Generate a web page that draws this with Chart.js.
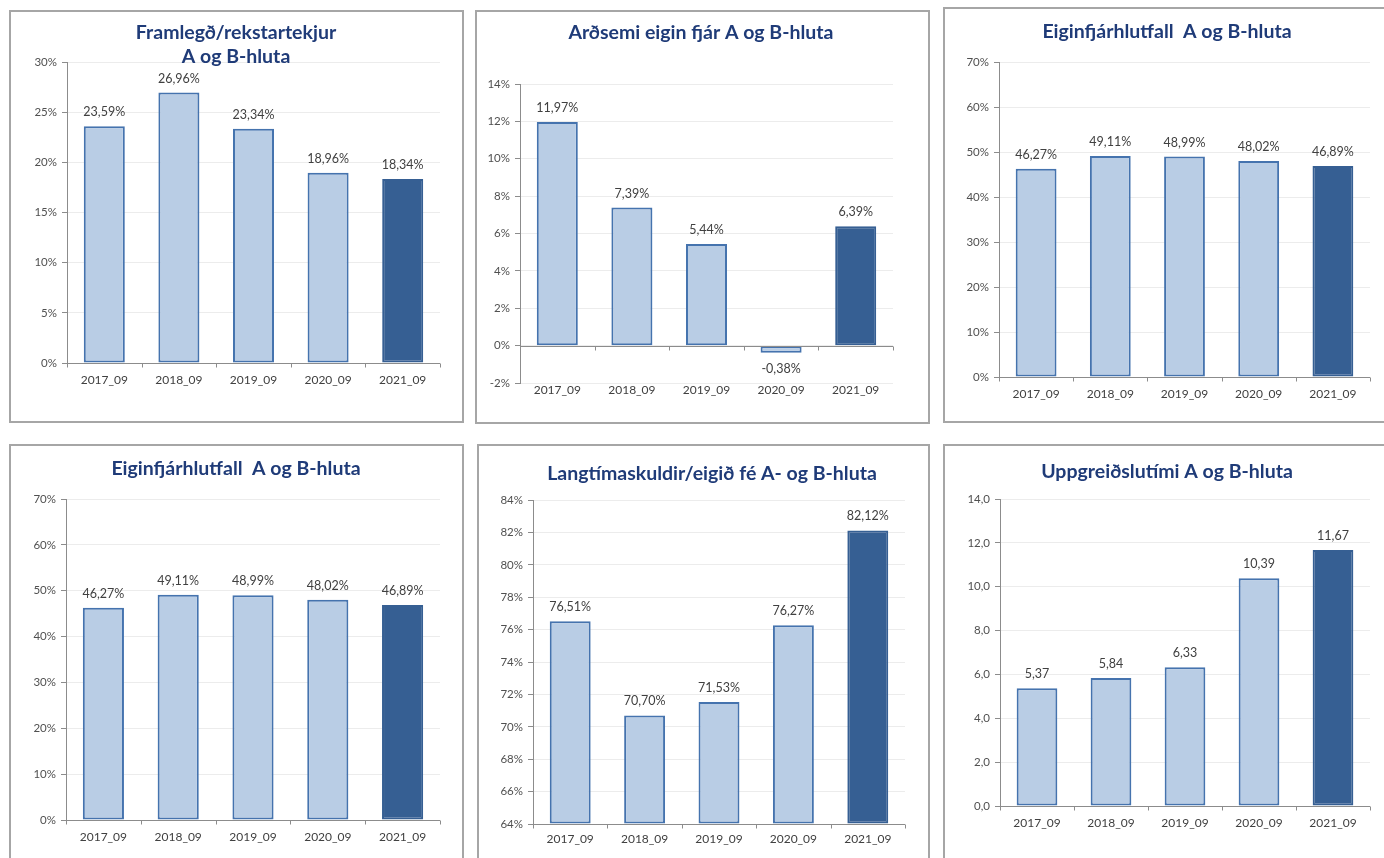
<!DOCTYPE html>
<html lang="is">
<head>
<meta charset="utf-8">
<title>Lykiltölur A og B-hluta</title>
<script src="https://cdn.jsdelivr.net/npm/chart.js@4.4.1/dist/chart.umd.min.js"></script>
<style>
  html, body { margin: 0; padding: 0; background: #fff; width: 1384px; height: 858px; overflow: hidden; }
  .panel { position: absolute; box-sizing: border-box; border: 2px solid #a6a6a6; background: #fff; }
  canvas { position: absolute; }
</style>
</head>
<body>
<script>
/* ---- data ---- */
const categories = ["2017_09", "2018_09", "2019_09", "2020_09", "2021_09"];

const framlegd = [23.59, 26.96, 23.34, 18.96, 18.34];
const ardsemi = [11.97, 7.39, 5.44, -0.38, 6.39];
const eiginfjarhlutfall = [46.27, 49.11, 48.99, 48.02, 46.89];
const langtimaskuldir = [76.51, 70.70, 71.53, 76.27, 82.12];
const uppgreidslutimi = [5.37, 5.84, 6.33, 10.39, 11.67];

const titles = [
  ["Framlegð/rekstartekjur", "A og B-hluta"],
  ["Arðsemi eigin fjár A og B-hluta"],
  ["Eiginfjárhlutfall  A og B-hluta"],
  ["Eiginfjárhlutfall  A og B-hluta"],
  ["Langtímaskuldir/eigið fé A- og B-hluta"],
  ["Uppgreiðslutími A og B-hluta"]
];

// y axis ranges: [min, max, step]
const yRanges = [
  [0, 30, 5],
  [-2, 14, 2],
  [0, 70, 10],
  [0, 70, 10],
  [64, 84, 2],
  [0, 14, 2]
];

/* ---- look ---- */
const LIGHT = "#b9cde5";
const DARK = "#365f93";
const EDGE = "#4573ae";
const AXIS = "#8c8c8c";
const GRID = "#ececec";
const FONT = "Lato, 'Open Sans', sans-serif";

Chart.defaults.font.family = FONT;
Chart.defaults.color = "#595959";

const pct = v => v + "%";
const pct2 = v => v.toFixed(2).replace(".", ",") + "%";
const dec1 = v => v.toFixed(1).replace(".", ",");
const dec2 = v => v.toFixed(2).replace(".", ",");

// page boxes for each panel and where its plot area sits
const layout = [
  { box: [9, 10, 455, 413],  plot: [67, 62, 440, 363],    titleX: 236,  titleY: [33, 57], labelPad: 10 },
  { box: [475, 10, 455, 414], plot: [520, 84, 893, 383],  titleX: 701,  titleY: [33], labelPad: 0 },
  { box: [943, 7, 448, 416],  plot: [999, 62, 1370, 377], titleX: 1167, titleY: [32], labelPad: 10 },
  { box: [9, 444, 455, 430],  plot: [66, 499, 440, 820],  titleX: 236,  titleY: [469], labelPad: 10 },
  { box: [477, 444, 453, 430], plot: [533, 500, 905, 824], titleX: 712, titleY: [474], labelPad: 8 },
  { box: [943, 444, 448, 430], plot: [1000, 499, 1370, 806], titleX: 1167, titleY: [472], labelPad: 10 }
];

const series = [framlegd, ardsemi, eiginfjarhlutfall, eiginfjarhlutfall, langtimaskuldir, uppgreidslutimi];
const tickFmt = [pct, pct, pct, pct, pct, dec1];
const labelFmt = [pct2, pct2, pct2, pct2, pct2, dec2];

const Y_W = 45, X_H = 30, BORDER = 2;

function makeChart(idx) {
  const L = layout[idx];
  const [bx, by, bw, bh] = L.box;
  const [pl, pt, pr, pb] = L.plot;

  const panel = document.createElement("div");
  panel.className = "panel";
  Object.assign(panel.style, { left: bx + "px", top: by + "px", width: bw + "px", height: bh + "px" });
  document.body.appendChild(panel);

  const cx = bx + BORDER, cy = by + BORDER;
  const cw = bw - 2 * BORDER, ch = bh - 2 * BORDER;
  const canvas = document.createElement("canvas");
  canvas.width = cw; canvas.height = ch;
  Object.assign(canvas.style, { left: cx + "px", top: cy + "px", width: cw + "px", height: ch + "px" });
  document.body.appendChild(canvas);

  const values = series[idx];
  const fmt = labelFmt[idx];
  const [ymin, ymax, ystep] = yRanges[idx];

  // chart title, drawn at fixed line positions
  const titlePlugin = {
    id: "panelTitle",
    afterDraw(chart) {
      const ctx = chart.ctx;
      ctx.save();
      ctx.font = "bold 19.5px " + FONT;
      ctx.fillStyle = "#1f3b78";
      ctx.textAlign = "center";
      ctx.textBaseline = "middle";
      titles[idx].forEach((line, i) => ctx.fillText(line, L.titleX - cx, L.titleY[i] - cy));
      ctx.restore();
    }
  };

  // horizontal axis line at zero (or the floor) with ticks between categories
  const axisPlugin = {
    id: "baseAxis",
    afterDatasetsDraw(chart) {
      const { ctx, chartArea, scales } = chart;
      const base = Math.round(scales.y.getPixelForValue(Math.max(scales.y.min, 0))) + 0.5;
      ctx.save();
      ctx.strokeStyle = AXIS;
      ctx.lineWidth = 1;
      ctx.beginPath();
      ctx.moveTo(chartArea.left, base);
      ctx.lineTo(chartArea.right, base);
      const n = categories.length;
      for (let i = 0; i <= n; i++) {
        let x;
        if (i === 0) x = chartArea.left;
        else if (i === n) x = chartArea.right;
        else x = (scales.x.getPixelForTick(i - 1) + scales.x.getPixelForTick(i)) / 2;
        x = Math.round(x) + 0.5;
        ctx.moveTo(x, base);
        ctx.lineTo(x, base + 4);
      }
      ctx.stroke();
      ctx.restore();
    }
  };

  // value labels above (or below, for negatives) each bar
  const valuePlugin = {
    id: "barValues",
    afterDatasetsDraw(chart) {
      const ctx = chart.ctx;
      const meta = chart.getDatasetMeta(0);
      ctx.save();
      ctx.font = "12.5px " + FONT;
      ctx.fillStyle = "#404040";
      ctx.textAlign = "center";
      ctx.textBaseline = "middle";
      meta.data.forEach((bar, i) => {
        const v = values[i];
        const y = v >= 0 ? bar.y - 14 : bar.y + 16;
        ctx.fillText(fmt(v), bar.x, y);
      });
      ctx.restore();
    }
  };

  new Chart(canvas, {
    type: "bar",
    data: {
      labels: categories,
      datasets: [{
        data: values,
        backgroundColor: values.map((v, i) => i === values.length - 1 ? DARK : LIGHT),
        borderColor: values.map((v, i) => i === values.length - 1 ? DARK : EDGE),
        borderWidth: 2,
        borderSkipped: false,
        categoryPercentage: 1,
        barPercentage: 0.55,
        base: Math.max(ymin, 0)
      }]
    },
    options: {
      responsive: false,
      animation: false,
      events: [],
      layout: {
        padding: {
          left: pl - cx - Y_W,
          top: pt - cy,
          right: cx + cw - pr,
          bottom: cy + ch - pb - X_H
        }
      },
      plugins: { legend: { display: false }, tooltip: { enabled: false }, title: { display: false } },
      scales: {
        x: {
          grid: { display: false, drawTicks: false },
          border: { display: false },
          ticks: { font: { size: 12 }, color: "#404040", padding: L.labelPad, maxRotation: 0 },
          afterFit: s => { s.height = X_H; }
        },
        y: {
          min: ymin,
          max: ymax,
          grid: { color: GRID, tickColor: AXIS, tickLength: 5, lineWidth: 1 },
          border: { color: AXIS, width: 1 },
          ticks: { stepSize: ystep, font: { size: 11.5 }, color: "#505050", padding: 5, callback: tickFmt[idx] },
          afterFit: s => { s.width = Y_W; }
        }
      }
    },
    plugins: [titlePlugin, axisPlugin, valuePlugin]
  });
}

layout.forEach((_, i) => makeChart(i));
</script>
</body>
</html>
